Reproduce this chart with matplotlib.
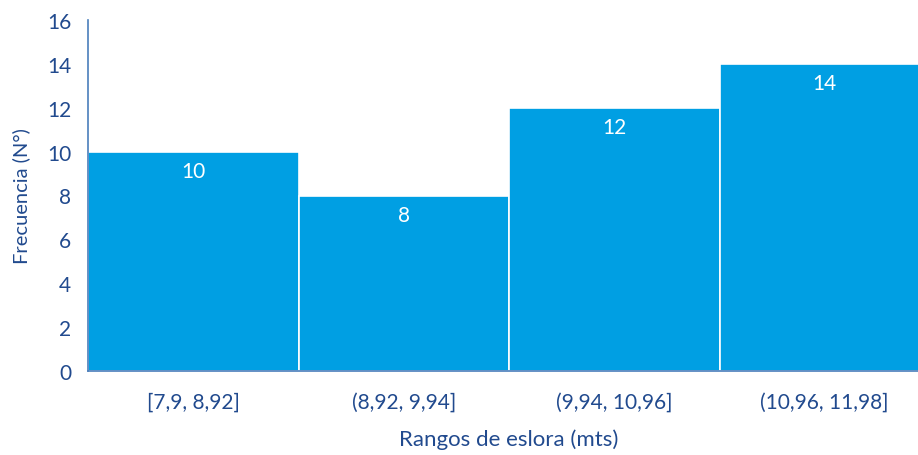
import matplotlib
matplotlib.use('Agg')
import matplotlib.pyplot as plt

rangos = ['[7,9, 8,92]', '(8,92, 9,94]', '(9,94, 10,96]', '(10,96, 11,98]']
frecuencia = [10, 8, 12, 14]

text_color = '#214A8E'
bar_color = '#009FE3'
axis_color = '#4A7EBB'

plt.rcParams['font.family'] = ['Lato', 'DejaVu Sans']

fig = plt.figure(figsize=(9.18, 4.56), dpi=100)
ax = fig.add_axes([88/918, 1 - 372/456, 842/918, 351/456])

x = range(len(rangos))
ax.bar(x, frecuencia, width=1.0, color=bar_color, edgecolor='white', linewidth=1.2, zorder=2)

# value labels inside the top of each bar
for i, v in zip(x, frecuencia):
    ax.annotate(str(v), xy=(i, v), xytext=(0, -14), textcoords='offset points',
                ha='center', va='center', color='white', fontsize=15)

ax.set_xlim(-0.5, 3.5)
ax.set_ylim(0, 16)
ax.set_yticks(range(0, 17, 2))
ax.set_xticks(list(x))
ax.set_xticklabels(rangos)

ax.tick_params(axis='both', length=0, labelsize=15, labelcolor=text_color)
ax.tick_params(axis='x', pad=15)
ax.tick_params(axis='y', pad=12)

for s in ['top', 'right']:
    ax.spines[s].set_visible(False)
for s in ['left', 'bottom']:
    ax.spines[s].set_color(axis_color)
    ax.spines[s].set_linewidth(1.2)

ax.set_xlabel('Rangos de eslora (mts)', fontsize=16, color=text_color, labelpad=12)
ax.set_ylabel('Frecuencia (N°)', fontsize=14.5, color=text_color, labelpad=12)

fig.savefig('out.png', dpi=100)
